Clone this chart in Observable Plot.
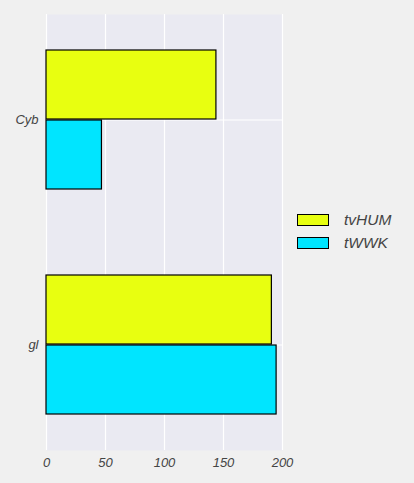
<!DOCTYPE html>
<html>
<head>
<meta charset="utf-8">
<script src="https://cdn.jsdelivr.net/npm/d3@7"></script>
<script src="https://cdn.jsdelivr.net/npm/@observablehq/plot@0.6"></script>
<style>
  html, body { margin: 0; padding: 0; background: #f0f0f0; }
  #wrap { position: relative; width: 414px; height: 483px; font-family: "Liberation Sans", Arial, sans-serif; }
  #legend { position: absolute; left: 297px; top: 208px; font-style: italic; font-size: 15.5px; color: #444; }
  .item { display: flex; align-items: center; height: 23px; }
  .sw { width: 30px; height: 10px; border: 1px solid #000; margin-right: 15px; }
</style>
</head>
<body>
<div id="wrap"></div>
<script>
const categories = ["Cyb", "gl"];
const series = ["tvHUM", "tWWK"];
const colors = ["#e8ff10", "#00e5ff"];
const tvHUM = [144, 191];
const tWWK = [47, 195];
const xTicks = [0, 50, 100, 150, 200];

const rows = [];
categories.forEach((c, i) => {
  rows.push({category: c, series: "tvHUM", value: tvHUM[i]});
  rows.push({category: c, series: "tWWK", value: tWWK[i]});
});

const chart = Plot.plot({
  width: 414,
  height: 483,
  marginLeft: 46,
  marginRight: 132,
  marginTop: 14,
  marginBottom: 33,
  style: {background: "transparent", fontFamily: "Liberation Sans, Arial, sans-serif", fontStyle: "italic", fontSize: "13px", color: "#444"},
  x: {domain: [0, 200], ticks: xTicks, tickSize: 0, tickPadding: 7, label: null},
  y: {domain: categories, paddingInner: 0.3805, paddingOuter: 0.155, tickSize: 0, tickPadding: 8, label: null},
  color: {domain: series, range: colors},
  marks: [
    Plot.frame({fill: "#eaeaf2", stroke: null}),
    Plot.gridX(xTicks, {stroke: "white", strokeOpacity: 1, strokeWidth: 1.2}),
    Plot.gridY({stroke: "white", strokeOpacity: 1, strokeWidth: 1.2}),
    Plot.barX(rows.filter(d => d.series === "tvHUM"), {x: "value", y: "category", fill: "series", stroke: "black", strokeWidth: 1.2, insetBottom: 70}),
    Plot.barX(rows.filter(d => d.series === "tWWK"), {x: "value", y: "category", fill: "series", stroke: "black", strokeWidth: 1.2, insetTop: 70})
  ]
});
const wrap = document.getElementById("wrap");
wrap.appendChild(chart);

const legend = document.createElement("div");
legend.id = "legend";
series.forEach((s, i) => {
  const item = document.createElement("div");
  item.className = "item";
  const sw = document.createElement("div");
  sw.className = "sw";
  sw.style.background = colors[i];
  const t = document.createElement("span");
  t.textContent = s;
  item.appendChild(sw);
  item.appendChild(t);
  legend.appendChild(item);
});
wrap.appendChild(legend);
</script>
</body>
</html>
